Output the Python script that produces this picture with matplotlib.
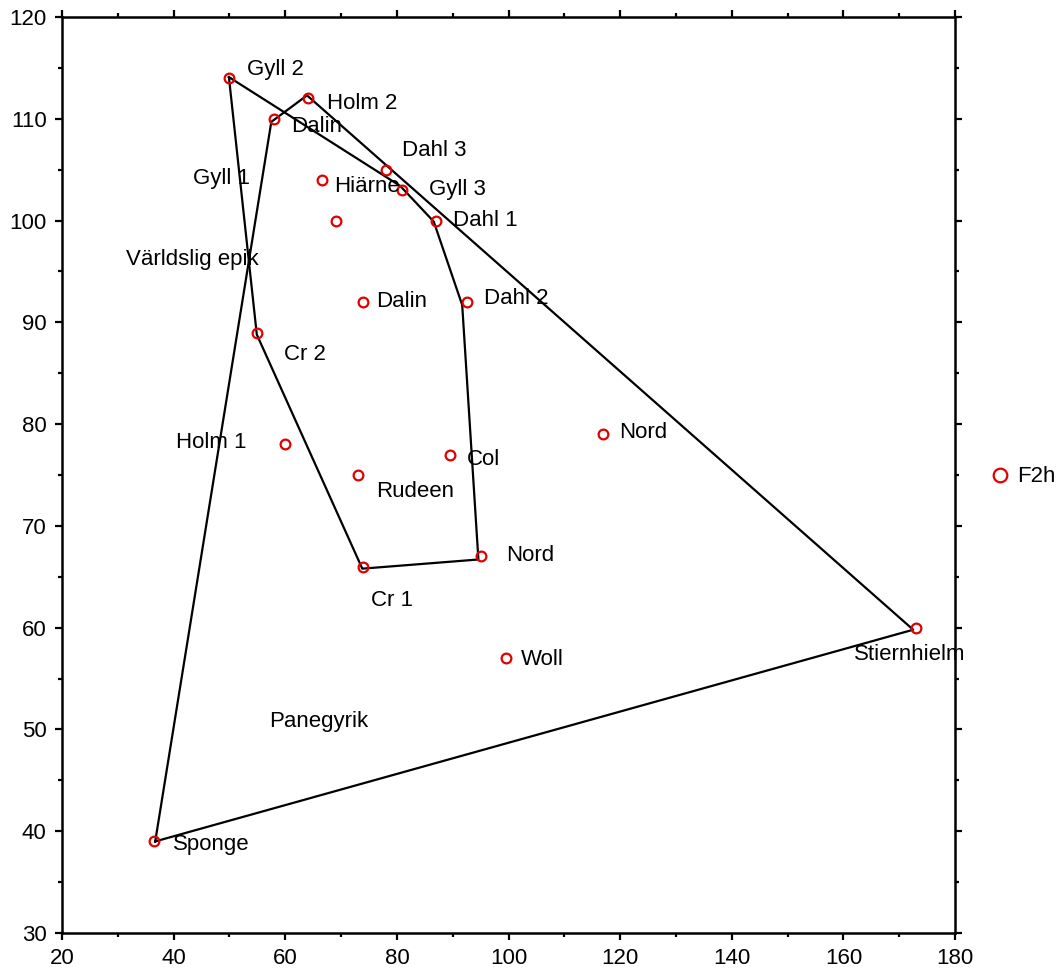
import numpy as np
import matplotlib
matplotlib.use('Agg')
import matplotlib.pyplot as plt
from matplotlib.ticker import MultipleLocator

plt.rcParams['font.family'] = ['Liberation Sans', 'DejaVu Sans']

# punkter (F2h)
px = [50, 64, 58, 78, 66.5, 81, 69, 87, 74, 92.5, 55, 117, 60, 89.5, 73, 95, 74, 99.5, 173, 36.5]
py = [114, 112, 110, 105, 104, 103, 100, 100, 92, 92, 89, 79, 78, 77, 75, 67, 66, 57, 60, 39]

# yttre polygon
outer_x = [36.7, 57.5, 63.9, 172.5, 36.7]
outer_y = [39.0, 109.7, 112.3, 59.8, 39.0]

# inre polygon
inner_x = [49.9, 80.6, 86.6, 91.7, 94.6, 73.8, 54.9, 49.9]
inner_y = [114.1, 103.4, 99.9, 91.7, 66.7, 65.8, 88.8, 114.1]

# etiketter
lab_text = ['Gyll 2', 'Holm 2', 'Dalin', 'Dahl 3', 'Hiärne', 'Gyll 3', 'Dahl 1',
            'Gyll 1', 'Världslig epik', 'Dalin', 'Dahl 2', 'Cr 2', 'Nord', 'Holm 1',
            'Col', 'Rudeen', 'Nord', 'Cr 1', 'Woll', 'Stiernhielm', 'Panegyrik', 'Sponge']
lab_x = [53.2, 67.5, 61.0, 80.9, 68.7, 85.8, 90.1, 43.5, 31.5, 76.3, 95.6, 59.8,
         119.8, 40.4, 92.6, 76.3, 99.6, 75.4, 102.3, 161.9, 57.1, 39.9]
lab_y = [114.8, 111.55, 109.2, 106.9, 103.3, 103.1, 100.0, 104.1, 96.2, 92.0, 92.3,
         86.8, 79.2, 78.2, 76.5, 73.4, 67.1, 62.7, 56.9, 57.4, 50.8, 38.7]

fig = plt.figure(figsize=(10.6, 9.72), dpi=100)
ax = fig.add_axes([0.0585, 0.0401, 0.8425, 0.9424])

ax.plot(outer_x, outer_y, color='black', lw=1.6, zorder=2)
ax.plot(inner_x, inner_y, color='black', lw=1.6, zorder=2)
ax.plot(px, py, 'o', ms=7, mfc='none', mec='#e00000', mew=1.6, label='F2h', zorder=3)

for t, x, y in zip(lab_text, lab_x, lab_y):
    ax.text(x, y, t, fontsize=16, ha='left', va='center', zorder=4)

ax.set_xlim(20, 180)
ax.set_ylim(30, 120)
ax.xaxis.set_major_locator(MultipleLocator(20))
ax.xaxis.set_minor_locator(MultipleLocator(10))
ax.yaxis.set_major_locator(MultipleLocator(10))
ax.yaxis.set_minor_locator(MultipleLocator(5))
ax.tick_params(which='both', direction='out', top=True, right=True, width=1.6,
               labelsize=16, labeltop=False, labelright=False)
ax.tick_params(which='major', length=5, pad=6)
ax.tick_params(which='minor', length=3)
for s in ax.spines.values():
    s.set_linewidth(1.8)

leg = ax.legend(loc='center left', bbox_to_anchor=(1.015, 0.498), frameon=False,
                fontsize=16, handletextpad=0.3, markerscale=1.4, handlelength=1.0)

plt.savefig('out.png', dpi=100)
